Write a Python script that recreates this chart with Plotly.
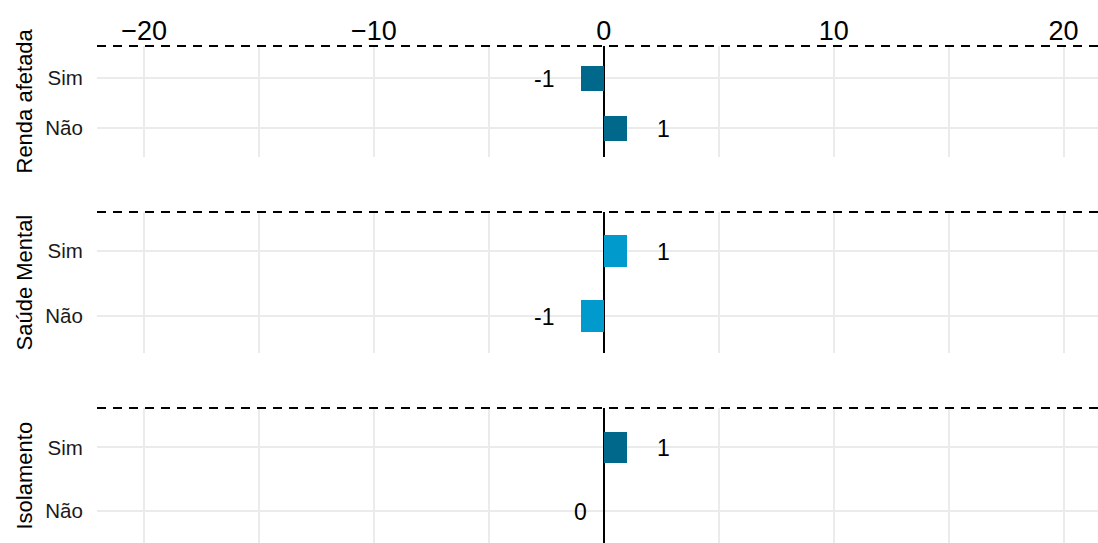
import plotly.graph_objects as go

# ---- data ----
categories = ["Sim", "Não"]
groups = ["Renda afetada", "Saúde Mental", "Isolamento"]
renda_afetada = [-1, 1]
saude_mental = [1, -1]
isolamento = [1, 0]
group_values = [renda_afetada, saude_mental, isolamento]
group_colors = ["#00688B", "#009ACD", "#00688B"]
x_tickvals = [-20, -10, 0, 10, 20]
x_ticktext = ["\u221220", "\u221210", "0", "10", "20"]

FONT = "Liberation Sans, Arial, sans-serif"

# ---- layout geometry (pixels) ----
W, H = 1098, 543
ML, MR, MT, MB = 97, 0, 46, 0
PH = H - MT - MB
PW = W - ML - MR
panels_px = [(46, 157), (212, 353), (408, 543)]
panel_yranges = [[-0.58, 1.64], [-0.57, 1.6], [-0.5, 1.62]]


def py(p):
    return 1 - (p - MT) / PH


domains = [[py(b), py(t)] for t, b in panels_px]

fig = go.Figure()
annotations = []

for i, (g, vals, col) in enumerate(zip(groups, group_values, group_colors)):
    ax = "" if i == 0 else str(i + 1)
    fig.add_trace(go.Bar(
        x=vals, y=categories, orientation="h", width=0.5,
        marker=dict(color=col, line=dict(width=0)),
        xaxis="x" + ax, yaxis="y" + ax, showlegend=False, hoverinfo="x+y",
    ))
    label_x = [v + 1.6 if v > 0 else (v - 1.6 if v < 0 else -1.0) for v in vals]
    for lx, cat, v in zip(label_x, categories, vals):
        annotations.append(dict(
            x=lx, y=cat, xref="x" + ax, yref="y" + ax, text=str(v), showarrow=False,
            xanchor="center", yanchor="middle", yshift=-1,
            font=dict(size=23, color="black", family=FONT)))

common_x = dict(
    range=[-22.05, 21.5], showgrid=True, gridcolor="#EBEBEB", gridwidth=1.5,
    tickvals=x_tickvals, ticktext=x_ticktext,
    zeroline=True, zerolinecolor="black", zerolinewidth=2,
    minor=dict(dtick=5, tick0=0, showgrid=True, gridcolor="#EBEBEB", gridwidth=1.5),
    showline=False, fixedrange=True,
)
common_y = dict(
    type="category", categoryorder="array", categoryarray=["Não", "Sim"],
    showgrid=True, gridcolor="#EBEBEB", gridwidth=2,
    tickfont=dict(size=20.5, color="#1a1a1a", family=FONT),
    ticks="outside", ticklen=9, tickcolor="rgba(0,0,0,0)",
    zeroline=False, showline=False, fixedrange=True,
)

layout = dict(
    width=W, height=H, margin=dict(l=ML, r=MR, t=MT, b=MB, autoexpand=False),
    plot_bgcolor="white", paper_bgcolor="white",
    font=dict(family=FONT, color="black"),
    bargap=0,
)
for i in range(3):
    ax = "" if i == 0 else str(i + 1)
    xa = dict(common_x, anchor="y" + ax)
    if i == 0:
        xa.update(side="top", showticklabels=True,
                  tickfont=dict(size=27, color="black", family=FONT),
                  ticks="")
    else:
        xa.update(matches="x", showticklabels=False)
    layout["xaxis" + ax] = xa
    layout["yaxis" + ax] = dict(common_y, domain=domains[i], anchor="x" + ax,
                                range=panel_yranges[i])

fig.update_layout(**layout)

shapes = []
for i, g in enumerate(groups):
    top = domains[i][1]
    shapes.append(dict(type="line", xref="paper", yref="paper", x0=0, x1=1,
                       y0=top, y1=top, layer="above",
                       line=dict(color="black", width=2, dash="9px,7px")))
    annotations.append(dict(text=g, xref="paper", yref="paper",
                            x=(24 - ML) / PW, y=(domains[i][0] + domains[i][1]) / 2,
                            textangle=-90, showarrow=False, xanchor="center", yanchor="middle",
                            font=dict(size=22, color="black", family=FONT)))
fig.update_layout(shapes=shapes, annotations=annotations)

fig.write_html("out.html", config={"displayModeBar": False},
               post_script="document.body.style.margin='0px';document.body.style.overflow='hidden';")
